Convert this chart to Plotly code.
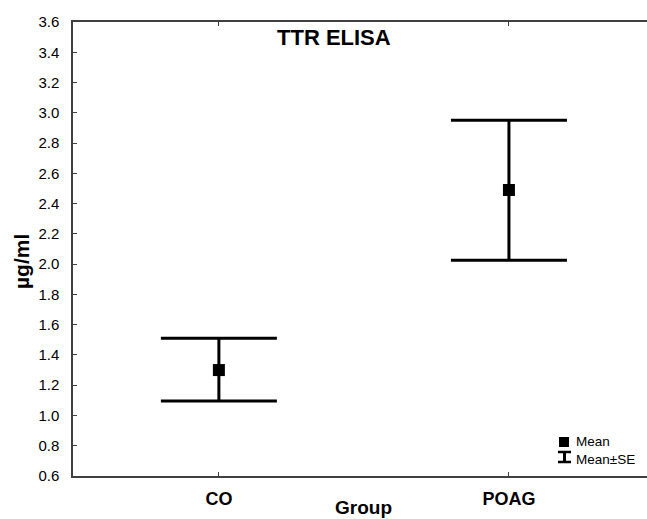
import plotly.graph_objects as go

groups = ["CO", "POAG"]
means = [1.30, 2.49]
se_plus = [0.21, 0.46]
se_minus = [0.205, 0.465]

y_ticks = [0.6, 0.8, 1.0, 1.2, 1.4, 1.6, 1.8, 2.0, 2.2, 2.4, 2.6, 2.8, 3.0, 3.2, 3.4, 3.6]

FONT = "Liberation Sans, Arial, sans-serif"

fig = go.Figure()
fig.add_trace(go.Scatter(
    x=groups, y=means, mode="markers",
    marker=dict(symbol="square", size=12, color="black"),
    error_y=dict(type="data", symmetric=False, array=se_plus, arrayminus=se_minus,
                 color="black", thickness=3, width=58),
    showlegend=False,
))

W, H = 647, 519
L, R, T, B = 73, 0, 22, 43
pw, ph = W - L - R, H - T - B

def px(x):
    return (x - L) / pw

def py(y):
    return 1 - (y - T) / ph

shapes = [
    # legend square
    dict(type="rect", xref="paper", yref="paper", x0=px(559), x1=px(569), y0=py(447), y1=py(437),
         fillcolor="black", line=dict(width=0)),
    # legend I-beam
    dict(type="line", xref="paper", yref="paper", x0=px(564.5), x1=px(564.5), y0=py(451), y1=py(463),
         line=dict(color="black", width=3)),
    dict(type="line", xref="paper", yref="paper", x0=px(558), x1=px(571), y0=py(452), y1=py(452),
         line=dict(color="black", width=2.5)),
    dict(type="line", xref="paper", yref="paper", x0=px(558), x1=px(571), y0=py(462), y1=py(462),
         line=dict(color="black", width=2.5)),
]

annotations = [
    dict(text="<b>TTR ELISA</b>", xref="paper", yref="paper", x=px(334), y=py(37),
         xanchor="center", yanchor="middle",
         showarrow=False, font=dict(family=FONT, size=22, color="black")),
    dict(text="<b>µg/ml</b>", xref="paper", yref="paper", x=px(21), y=py(262),
         xanchor="center", yanchor="middle",
         showarrow=False, textangle=-90, font=dict(family=FONT, size=21, color="black")),
    dict(text="<b>Group</b>", xref="paper", yref="paper", x=px(363), y=py(507),
         xanchor="center", yanchor="middle",
         showarrow=False, font=dict(family=FONT, size=19, color="black")),
    dict(text="Mean<br>Mean±SE", xref="paper", yref="paper", x=px(574), y=py(450),
         xanchor="left", yanchor="middle", align="left",
         showarrow=False, font=dict(family=FONT, size=13.5, color="black")),
]

fig.update_layout(
    width=W, height=H,
    margin=dict(l=L, r=R, t=T, b=B, pad=0),
    paper_bgcolor="white", plot_bgcolor="white",
    font=dict(family=FONT, color="black"),
    shapes=shapes, annotations=annotations,
    showlegend=False,
    xaxis=dict(
        type="category", range=[-0.503, 1.476],
        showline=True, linecolor="#404040", linewidth=1.5, mirror="ticks",
        ticks="inside", ticklen=4, tickcolor="#404040",
        showgrid=False, zeroline=False,
        tickfont=dict(family=FONT, size=18, color="black"),
        ticktext=["<b>CO</b>", "<b>POAG</b>"], tickvals=groups,
        ticklabelstandoff=6,
    ),
    yaxis=dict(
        range=[0.6, 3.6], tickvals=y_ticks, ticktext=[f"{v:.1f}" for v in y_ticks],
        showline=True, linecolor="#404040", linewidth=1.5, mirror=False,
        ticks="inside", ticklen=4, tickcolor="#404040",
        showgrid=False, zeroline=False,
        tickfont=dict(family=FONT, size=15, color="black"),
        ticklabelstandoff=9,
    ),
)

fig.write_html("out.html")
